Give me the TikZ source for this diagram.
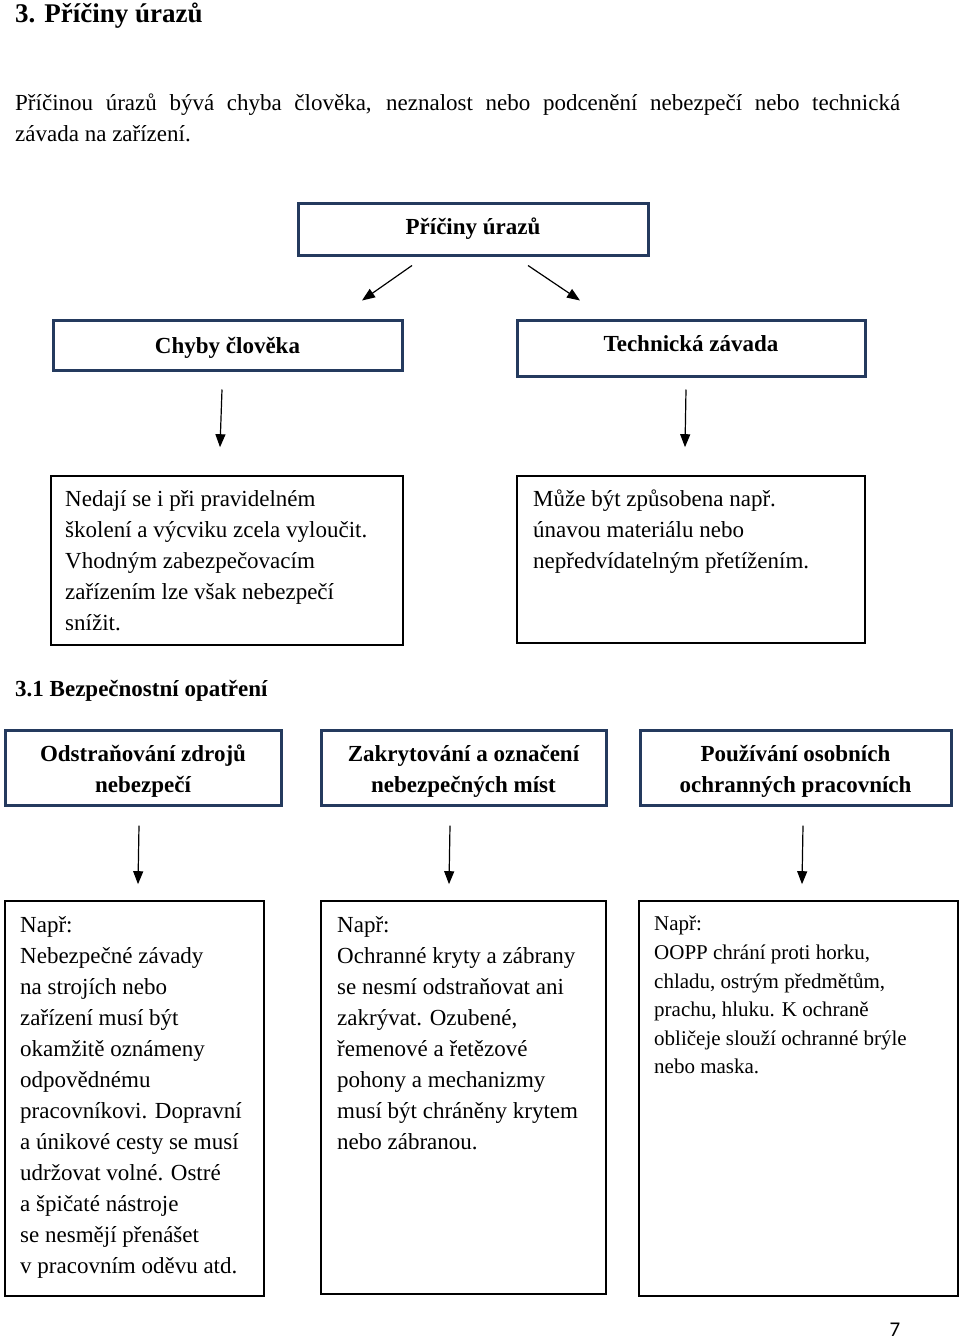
\documentclass[tikz,border=0pt]{standalone}
\usepackage{fontspec}
\setmainfont{Liberation Serif}
\newfontfamily\pagefont{Carlito}
\usetikzlibrary{arrows.meta}
\definecolor{boxnavy}{RGB}{36,58,94}

\begin{document}
\begin{tikzpicture}[
        x=1pt, y=-1pt,
        txt/.style={font=\fontsize{23}{31}\selectfont, inner sep=0pt, align=left, anchor=north west},
        smalltxt/.style={font=\fontsize{21}{28.6}\selectfont, inner sep=0pt, align=left, anchor=north west},
        headbox/.style={draw=boxnavy, line width=3pt, align=center, inner sep=0pt,
            font=\fontsize{23}{31}\selectfont\bfseries},
        twoline/.style={headbox, minimum height=75pt, text height=52pt, text depth=3pt},
        notebox/.style={draw=black, line width=1.6pt, inner sep=0pt},
        arr/.style={line width=1.2pt, -{Triangle[length=13pt, width=10pt]}}
    ]
        \useasboundingbox (0,0) rectangle (960,1339);

        % headings and intro text
        \node[anchor=base west, inner sep=0pt, font=\fontsize{27}{32}\selectfont\bfseries] (title) at (15,22) {3. Příčiny úrazů};
        \node[txt, text width=885pt, align=justify] (intro) at (15,94)
            {Příčinou úrazů bývá chyba člověka, neznalost nebo podcenění nebezpečí nebo technická\linebreak závada na zařízení.};

        % causes tree
        \node[headbox, minimum width=350pt, minimum height=52pt] (causes) at (473,229) {Příčiny úrazů};
        \node[headbox, minimum width=349pt, minimum height=50pt, text height=21pt, text depth=5pt] (human) at (227.5,345) {Chyby člověka};
        \node[headbox, minimum width=348pt, minimum height=56pt, text height=17pt, text depth=11pt] (tech) at (691,348) {Technická závada};

        \node[notebox, minimum width=352pt, minimum height=169pt] (humannote) at (227,560.5) {};
        \node[notebox, minimum width=348pt, minimum height=167pt] (technote) at (691,559.5) {};
        \node[txt] (humantxt) at (65,490)
            {Nedají se i při pravidelném\\školení a výcviku zcela vyloučit.\\Vhodným zabezpečovacím\\zařízením lze však nebezpečí\\snížit.};
        \node[txt] (techtxt) at (533,490)
            {Může být způsobena např.\\únavou materiálu nebo\\nepředvídatelným přetížením.};

        \draw[arr] ([shift={(-61,9)}]causes.south) -- ([shift={(134.5,-18)}]human.north);
        \draw[arr] ([shift={(55,9)}]causes.south) -- ([shift={(-111,-18)}]tech.north);
        \draw[arr] ([shift={(-5.5,18)}]human.south) -- ([shift={(-7,-28)}]humannote.north);
        \draw[arr] ([shift={(-5,12)}]tech.south) -- ([shift={(-6,-28)}]technote.north);

        % safety measures
        \node[anchor=base west, inner sep=0pt, font=\fontsize{23}{31}\selectfont\bfseries] (measures) at (15,696) {3.1 Bezpečnostní opatření};

        \node[twoline, minimum width=276pt] (remove) at (143,767.5) {Odstraňování zdrojů\\nebezpečí};
        \node[twoline, minimum width=285pt] (cover) at (463.5,767.5) {Zakrytování a označení\\nebezpečných míst};
        \node[twoline, minimum width=311pt] (ppe) at (795.5,767.5) {Používání osobních\\ochranných pracovních};

        \node[notebox, minimum width=259pt, minimum height=395pt] (removenote) at (134.5,1098.5) {};
        \node[notebox, minimum width=285pt, minimum height=393pt] (covernote) at (463.5,1097.5) {};
        \node[notebox, minimum width=319pt, minimum height=395pt] (ppenote) at (798.5,1098.5) {};

        \node[txt] (removetxt) at (20,916)
            {Např:\\Nebezpečné závady\\na strojích nebo\\zařízení musí být\\okamžitě oznámeny\\odpovědnému\\pracovníkovi. Dopravní\\a únikové cesty se musí\\udržovat volné. Ostré\\a špičaté nástroje\\se nesmějí přenášet\\v pracovním oděvu atd.};
        \node[txt] (covertxt) at (337,916)
            {Např:\\Ochranné kryty a zábrany\\se nesmí odstraňovat ani\\zakrývat. Ozubené,\\řemenové a řetězové\\pohony a mechanizmy\\musí být chráněny krytem\\nebo zábranou.};
        \node[smalltxt] (ppetxt) at (654,916)
            {Např:\\OOPP chrání proti horku,\\chladu, ostrým předmětům,\\prachu, hluku. K ochraně\\obličeje slouží ochranné brýle\\nebo maska.};

        \draw[arr] ([shift={(-4,19)}]remove.south) -- ([shift={(3.5,-16)}]removenote.north);
        \draw[arr] ([shift={(-13.5,19)}]cover.south) -- ([shift={(-14.5,-16)}]covernote.north);
        \draw[arr] ([shift={(7.5,19)}]ppe.south) -- ([shift={(3.5,-16)}]ppenote.north);

        % page number
        \node[anchor=base, inner sep=0pt, font=\pagefont\fontsize{21}{25}\selectfont] (pagenum) at (895,1336) {7};
    \end{tikzpicture}
\end{document}
